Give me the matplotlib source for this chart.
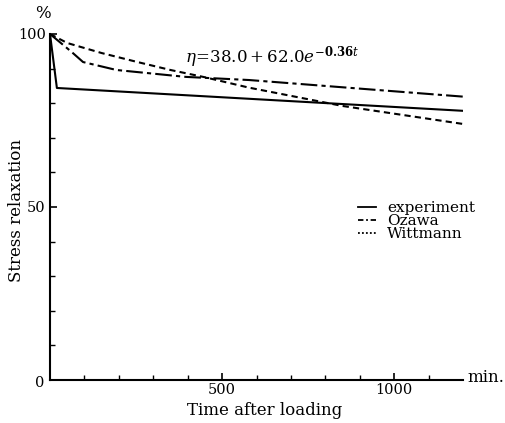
import matplotlib
matplotlib.use("Agg")
import matplotlib.pyplot as plt
from matplotlib.lines import Line2D
import numpy as np

# data
t_exp = [0, 20, 1200]
v_exp = [100, 84.4, 77.8]
t_oz = [0, 63, 96, 193, 395, 578, 1200]
v_oz = [100, 94.8, 91.9, 89.6, 87.6, 86.7, 81.9]
t_wit = [0, 50, 150, 250, 350, 450, 578, 850, 1200]
v_wit = [100, 97.4, 94.5, 92.0, 89.6, 87.5, 84.5, 79.2, 74.0]
x_ticks_major = [500, 1000]
y_ticks_major = [50, 100]
series_names = ['experiment', 'Ozawa', 'Wittmann']

plt.rcParams['font.family'] = ['DejaVu Serif']
plt.rcParams['mathtext.fontset'] = 'dejavuserif'

W, H = 505, 423
fig = plt.figure(figsize=(W/100, H/100), dpi=100)
ax = fig.add_axes([50/W, 1-380/H, (463-50)/W, (380-34)/H])

ax.plot(t_exp, v_exp, color='black', lw=1.5, ls='-')
ax.plot(t_oz, v_oz, color='black', lw=1.5, ls=(0, (8, 2, 2, 2)))
ax.plot(t_wit, v_wit, color='black', lw=1.5, ls=(0, (3, 2)))

ax.set_xlim(0, 1200)
ax.set_ylim(0, 100)
for s in ['top', 'right']:
    ax.spines[s].set_visible(False)
for s in ['left', 'bottom']:
    ax.spines[s].set_linewidth(1.5)

ax.set_xticks(x_ticks_major)
ax.set_xticks(np.arange(100, 1200, 100), minor=True)
ax.set_yticks(y_ticks_major)
ax.set_yticks(np.arange(10, 100, 10), minor=True)
ax.tick_params(axis='both', which='major', direction='in', length=5, width=1.2, labelsize=10.5)
ax.tick_params(axis='both', which='minor', direction='in', length=3.5, width=1.0)
ax.tick_params(axis='x', pad=2)
ax.tick_params(axis='y', pad=3)

fig.text(40/W, 1-383/H, '0', ha='center', va='center', fontsize=10.5)
fig.text(43/W, 1-13/H, '%', ha='center', va='center', fontsize=12)
fig.text(486/W, 1-377/H, 'min.', ha='center', va='center', fontsize=12)
fig.text(265/W, 1-410/H, 'Time after loading', ha='center', va='center', fontsize=12)
fig.text(17/W, 1-210/H, 'Stress relaxation', ha='center', va='center', rotation=90, fontsize=12)

ax.text(645, 93.4, r'$\eta\!=\!38.0+62.0e^{-\mathbf{0.36}t}$', fontsize=12, ha='center', va='center')

handles = [Line2D([], [], color='black', lw=1.3, ls='-'),
           Line2D([], [], color='black', lw=1.3, ls=(0, (3, 1.5, 1, 1.5))),
           Line2D([], [], color='black', lw=1.3, ls=(0, (1, 1.2)))]
ax.legend(handles, series_names, loc='upper left', bbox_to_anchor=(308/413, 1-(201-34)/346),
          frameon=False, handlelength=1.2, handletextpad=0.7, labelspacing=-0.05,
          fontsize=11, borderaxespad=0, borderpad=0)

fig.savefig('out.png', dpi=100)
